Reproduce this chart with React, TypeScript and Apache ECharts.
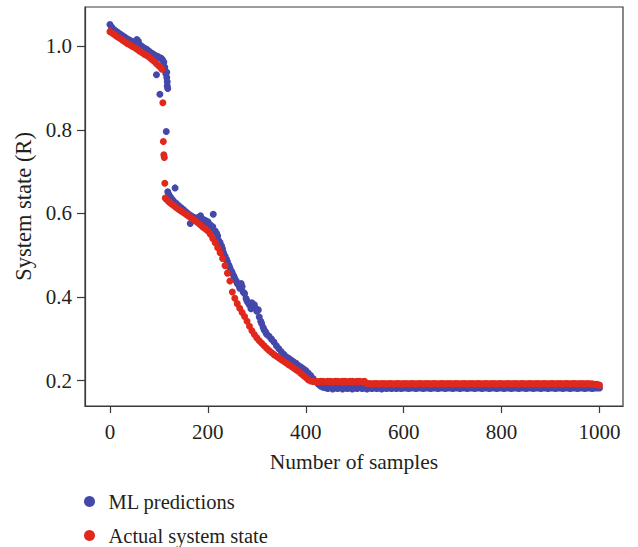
import React, { useEffect, useRef } from "react";
import * as echarts from "echarts";

const xTicks = [0, 200, 400, 600, 800, 1000];
const yTicks = [0.2, 0.4, 0.6, 0.8, 1.0];
const seriesNames = ["ML predictions", "Actual system state"];

// ML predictions: [sample, R]
const predTop: [number, number][] = [
  [0, 1.052], [3, 1.046], [5, 1.043], [10, 1.038], [15, 1.034], [20, 1.030], [25, 1.026],
  [30, 1.022], [35, 1.018], [40, 1.015], [45, 1.012], [50, 1.008], [55, 1.016], [58, 1.012],
  [60, 1.005], [65, 1.000], [70, 0.996], [75, 0.993], [80, 0.988], [85, 0.984], [90, 0.980],
  [95, 0.932], [97, 0.976], [100, 0.973], [102, 0.885], [104, 0.972], [107, 0.968],
  [110, 0.962], [112, 0.950], [114, 0.935], [116, 0.925], [117, 0.915], [118, 0.899],
  [116, 0.938], [117, 0.905], [115, 0.796],
];
const predMid: [number, number][] = [
  [118, 0.652], [120, 0.646], [123, 0.640], [125, 0.636], [128, 0.632], [130, 0.629],
  [133, 0.661], [135, 0.624], [140, 0.619], [145, 0.614], [150, 0.609], [155, 0.604],
  [160, 0.599], [164, 0.576], [165, 0.595], [170, 0.591], [175, 0.589], [180, 0.590],
  [185, 0.594], [188, 0.580], [190, 0.586], [195, 0.583], [198, 0.572], [200, 0.580],
  [203, 0.574], [205, 0.572], [208, 0.566], [210, 0.568], [211, 0.598], [215, 0.558],
  [218, 0.552], [220, 0.546], [222, 0.535], [225, 0.530], [228, 0.522], [230, 0.515],
  [232, 0.506], [235, 0.498], [238, 0.490], [240, 0.484], [243, 0.476], [245, 0.470],
  [248, 0.462], [250, 0.457], [253, 0.450], [255, 0.444], [258, 0.438], [260, 0.432],
  [263, 0.428], [265, 0.421], [268, 0.432], [270, 0.425], [272, 0.412], [275, 0.408],
  [278, 0.396], [280, 0.390], [283, 0.385], [285, 0.381], [288, 0.372], [290, 0.386],
  [293, 0.378], [295, 0.381], [298, 0.372], [300, 0.366], [303, 0.369], [305, 0.352],
  [308, 0.342], [310, 0.336], [313, 0.327], [315, 0.321], [318, 0.316], [320, 0.311],
  [325, 0.306], [330, 0.299], [335, 0.292], [340, 0.283], [345, 0.276], [350, 0.269],
  [355, 0.263], [360, 0.257], [365, 0.253], [370, 0.249], [375, 0.245], [380, 0.241],
  [385, 0.236], [390, 0.232], [395, 0.228], [400, 0.224], [405, 0.218], [410, 0.212],
  [415, 0.205], [420, 0.198], [425, 0.192], [430, 0.187], [435, 0.184], [440, 0.183],
];
const predFlat: [number, number][] = [
  [445, 0.181], [450, 0.183], [455, 0.180], [460, 0.182], [465, 0.181], [470, 0.183],
  [475, 0.180], [480, 0.182], [485, 0.181], [490, 0.182], [495, 0.180], [500, 0.182],
  [505, 0.181], [510, 0.183], [515, 0.181], [520, 0.182], [525, 0.180], [530, 0.182],
  [535, 0.181], [540, 0.182], [545, 0.181], [550, 0.182], [555, 0.180], [560, 0.182],
  [565, 0.181], [570, 0.182], [575, 0.181], [580, 0.182], [585, 0.181], [590, 0.182],
  [595, 0.181], [600, 0.182], [605, 0.182], [610, 0.181], [615, 0.182], [620, 0.182],
  [625, 0.181], [630, 0.182], [635, 0.182], [640, 0.181], [645, 0.182], [650, 0.182],
  [655, 0.181], [660, 0.182], [665, 0.182], [670, 0.181], [675, 0.182], [680, 0.182],
  [685, 0.181], [690, 0.182], [695, 0.182], [700, 0.181], [705, 0.182], [710, 0.182],
  [715, 0.181], [720, 0.182], [725, 0.182], [730, 0.181], [735, 0.182], [740, 0.182],
  [745, 0.181], [750, 0.182], [755, 0.182], [760, 0.181], [765, 0.182], [770, 0.182],
  [775, 0.181], [780, 0.182], [785, 0.182], [790, 0.181], [795, 0.182], [800, 0.182],
  [805, 0.181], [810, 0.182], [815, 0.182], [820, 0.181], [825, 0.182], [830, 0.182],
  [835, 0.181], [840, 0.182], [845, 0.182], [850, 0.181], [855, 0.182], [860, 0.182],
  [865, 0.181], [870, 0.182], [875, 0.182], [880, 0.181], [885, 0.182], [890, 0.182],
  [895, 0.181], [900, 0.182], [905, 0.182], [910, 0.181], [915, 0.182], [920, 0.182],
  [925, 0.181], [930, 0.182], [935, 0.182], [940, 0.181], [945, 0.182], [950, 0.182],
  [955, 0.181], [960, 0.182], [965, 0.182], [970, 0.181], [975, 0.182], [980, 0.182],
  [985, 0.181], [990, 0.182], [995, 0.182], [1000, 0.182],
];

// Actual system state: [sample, R]
const actualTop: [number, number][] = [
  [0, 1.035], [5, 1.031], [10, 1.027], [15, 1.023], [20, 1.019], [25, 1.015], [30, 1.011],
  [35, 1.007], [40, 1.004], [45, 1.000], [50, 0.997], [55, 0.993], [60, 0.989], [65, 0.985],
  [70, 0.981], [75, 0.978], [80, 0.974], [85, 0.969], [90, 0.964], [95, 0.958], [100, 0.953],
  [104, 0.949], [106, 0.945],
  [108, 0.865], [109, 0.772], [110, 0.740], [111, 0.734], [112, 0.672],
];
const actualMid: [number, number][] = [
  [113, 0.637], [115, 0.634], [120, 0.628], [125, 0.623], [130, 0.619], [135, 0.614],
  [140, 0.610], [145, 0.606], [150, 0.602], [155, 0.598], [160, 0.594], [165, 0.590],
  [170, 0.586], [175, 0.582], [180, 0.577], [185, 0.572], [190, 0.567], [195, 0.563],
  [200, 0.558], [205, 0.550], [210, 0.540], [215, 0.530], [220, 0.518], [225, 0.506],
  [230, 0.492], [235, 0.475], [240, 0.457], [245, 0.438], [250, 0.412], [255, 0.397],
  [260, 0.384], [265, 0.373], [270, 0.363], [275, 0.353], [280, 0.342], [285, 0.330],
  [290, 0.319], [295, 0.310], [300, 0.302], [305, 0.295], [310, 0.289], [315, 0.283],
  [320, 0.277], [325, 0.272], [330, 0.267], [335, 0.262], [340, 0.258], [345, 0.254],
  [350, 0.250], [355, 0.246], [360, 0.242], [365, 0.238], [370, 0.234], [375, 0.230],
  [380, 0.226], [385, 0.222], [390, 0.217], [395, 0.212], [400, 0.207], [405, 0.202],
  [410, 0.199],
];
const actualFlat: [number, number][] = [
  [415, 0.198], [420, 0.198], [425, 0.197], [430, 0.198], [435, 0.198], [440, 0.197],
  [445, 0.198], [450, 0.198], [455, 0.197], [460, 0.198], [465, 0.198], [470, 0.197],
  [475, 0.198], [480, 0.198], [485, 0.197], [490, 0.198], [495, 0.198], [500, 0.197],
  [505, 0.198], [510, 0.198], [515, 0.197], [520, 0.198], [525, 0.193], [530, 0.193],
  [535, 0.192], [540, 0.193], [545, 0.193], [550, 0.192], [555, 0.193], [560, 0.193],
  [565, 0.192], [570, 0.193], [575, 0.193], [580, 0.192], [585, 0.193], [590, 0.193],
  [595, 0.192], [600, 0.193], [605, 0.193], [610, 0.192], [615, 0.193], [620, 0.193],
  [625, 0.192], [630, 0.193], [635, 0.193], [640, 0.192], [645, 0.193], [650, 0.193],
  [655, 0.192], [660, 0.193], [665, 0.193], [670, 0.192], [675, 0.193], [680, 0.193],
  [685, 0.192], [690, 0.193], [695, 0.193], [700, 0.192], [705, 0.193], [710, 0.193],
  [715, 0.192], [720, 0.193], [725, 0.193], [730, 0.192], [735, 0.193], [740, 0.193],
  [745, 0.192], [750, 0.193], [755, 0.193], [760, 0.192], [765, 0.193], [770, 0.193],
  [775, 0.192], [780, 0.193], [785, 0.193], [790, 0.192], [795, 0.193], [800, 0.193],
  [805, 0.192], [810, 0.193], [815, 0.193], [820, 0.192], [825, 0.193], [830, 0.193],
  [835, 0.192], [840, 0.193], [845, 0.193], [850, 0.192], [855, 0.193], [860, 0.193],
  [865, 0.192], [870, 0.193], [875, 0.193], [880, 0.192], [885, 0.193], [890, 0.193],
  [895, 0.192], [900, 0.193], [905, 0.193], [910, 0.192], [915, 0.193], [920, 0.193],
  [925, 0.192], [930, 0.193], [935, 0.193], [940, 0.192], [945, 0.193], [950, 0.193],
  [955, 0.192], [960, 0.193], [965, 0.193], [970, 0.192], [975, 0.193], [980, 0.192],
  [985, 0.192], [990, 0.191], [995, 0.191], [1000, 0.189],
];

const BLUE = "#4448aa";
const RED = "#e0281d";
const FONT = "'Liberation Serif', 'DejaVu Serif', serif";
const TEXT = "#231f20";
const AXIS = "#3a3a3a";

export default function App() {
  const ref = useRef<HTMLDivElement>(null);

  useEffect(() => {
    const chart = echarts.init(ref.current!, null, { renderer: "svg" });
    const legendBase = {
      orient: "vertical",
      left: 84,
      padding: 0,
      icon: "circle",
      itemWidth: 28,
      itemHeight: 11,
      textStyle: { fontFamily: FONT, fontSize: 20.5, color: TEXT },
    };
    chart.setOption({
      animation: false,
      textStyle: { fontFamily: FONT },
      grid: {
        left: 85,
        top: 7,
        right: 15,
        bottom: 141,
        show: true,
        borderColor: AXIS,
        borderWidth: 1.2,
        containLabel: false,
      },
      legend: [
        { ...legendBase, data: [seriesNames[0]], top: 491 },
        { ...legendBase, data: [seriesNames[1]], top: 525 },
      ],
      xAxis: {
        type: "value",
        min: -51,
        max: 1048,
        name: "Number of samples",
        nameLocation: "middle",
        nameGap: 45,
        nameTextStyle: { fontFamily: FONT, fontSize: 21.5, color: TEXT },
        axisLine: { show: true, onZero: false, lineStyle: { color: AXIS, width: 1.2 } },
        axisTick: {
          show: true,
          customValues: xTicks,
          length: 7,
          lineStyle: { color: AXIS, width: 1.2 },
        },
        axisLabel: {
          customValues: xTicks,
          margin: 15,
          fontFamily: FONT,
          fontSize: 21,
          color: TEXT,
          formatter: (v: number) => String(v),
        },
        splitLine: { show: false },
      },
      yAxis: {
        type: "value",
        min: 0.139,
        max: 1.094,
        name: "System state (R)",
        nameLocation: "middle",
        nameGap: 48,
        nameTextStyle: { fontFamily: FONT, fontSize: 22.5, color: TEXT },
        axisLine: { show: true, onZero: false, lineStyle: { color: AXIS, width: 1.2 } },
        axisTick: {
          show: true,
          customValues: yTicks,
          length: 8,
          lineStyle: { color: AXIS, width: 1.2 },
        },
        axisLabel: {
          customValues: yTicks,
          margin: 13,
          fontFamily: FONT,
          fontSize: 21,
          color: TEXT,
          formatter: (v: number) => v.toFixed(1),
        },
        splitLine: { show: false },
      },
      series: [
        {
          name: seriesNames[0],
          type: "scatter",
          symbolSize: 7,
          itemStyle: { color: BLUE, opacity: 1 },
          emphasis: { disabled: true },
          data: [...predTop, ...predMid, ...predFlat],
        },
        {
          name: seriesNames[1],
          type: "scatter",
          symbolSize: 7,
          itemStyle: { color: RED, opacity: 1 },
          emphasis: { disabled: true },
          data: [...actualTop, ...actualMid, ...actualFlat],
        },
      ],
    });
    return () => chart.dispose();
  }, []);

  return (
    <div
      ref={ref}
      style={{ position: "absolute", left: 0, top: 0, width: 638, height: 547 }}
    />
  );
}
